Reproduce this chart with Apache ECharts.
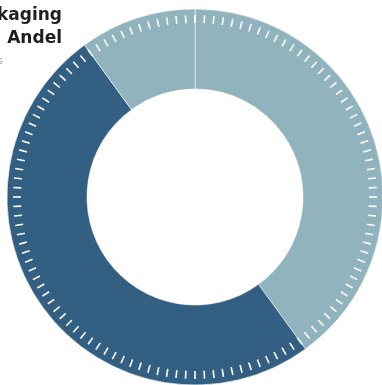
<!DOCTYPE html>
<html>
<head>
<meta charset="utf-8">
<script src="https://cdn.jsdelivr.net/npm/echarts@6/dist/echarts.min.js"></script>
<style>
html,body{margin:0;padding:0;background:#fff;}
#c{width:382px;height:385px;}
</style>
</head>
<body>
<div id="c"></div>
<script>
const sliceNames = ['A', 'B', 'C'];
const sliceValues = [40, 50, 10];
const sliceColors = ['#90b3bd', '#335f83', '#90b3bd'];
const titleLines = ['Packaging', 'Andel', 'Materials'];
const tickCount = 120;

const chart = echarts.init(document.getElementById('c'), null, {renderer: 'canvas'});
chart.setOption({
  animation: false,
  graphic: [
    {type: 'text', right: 382 - 62, top: 7, style: {text: titleLines[0], font: 'bold 17px "DejaVu Sans", sans-serif', fill: '#1f1f1f', textAlign: 'right'}},
    {type: 'text', right: 382 - 62, top: 30, style: {text: titleLines[1], font: 'bold 17px "DejaVu Sans", sans-serif', fill: '#1f1f1f', textAlign: 'right'}},
    {type: 'text', right: 382 - 3, top: 55, style: {text: titleLines[2], font: '11px "Open Sans", sans-serif', fill: '#999', textAlign: 'right'}}
  ],
  series: [
    {
      type: 'pie',
      z: 1,
      center: [195, 197],
      radius: [108, 188],
      startAngle: 90,
      clockwise: true,
      label: {show: false},
      labelLine: {show: false},
      emphasis: {disabled: true},
      itemStyle: {borderColor: '#ffffff', borderWidth: 0.6},
      data: sliceNames.map((n, i) => ({name: n, value: sliceValues[i], itemStyle: {color: sliceColors[i]}}))
    },
    {
      type: 'gauge',
      z: 5,
      center: [195, 197],
      radius: 182,
      startAngle: 90,
      endAngle: -270,
      min: 0,
      max: tickCount,
      splitNumber: tickCount,
      axisLine: {show: true, lineStyle: {width: 0, color: [[1, 'rgba(0,0,0,0)']]}},
      axisTick: {show: false},
      splitLine: {show: true, length: 8, distance: 0, lineStyle: {color: '#ffffff', width: 1.6}},
      axisLabel: {show: false},
      pointer: {show: false},
      anchor: {show: false},
      progress: {show: false},
      detail: {show: false},
      title: {show: false},
      data: [{value: 0, name: ''}]
    }
  ]
});
</script>
</body>
</html>
